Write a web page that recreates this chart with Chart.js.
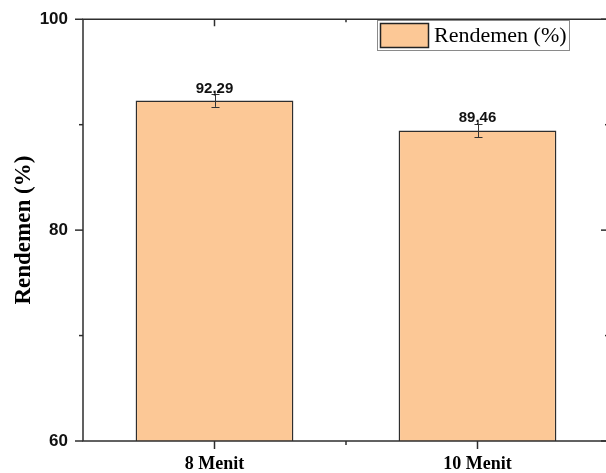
<!DOCTYPE html>
<html>
<head>
<meta charset="utf-8">
<script src="https://cdn.jsdelivr.net/npm/chart.js@4.4.1/dist/chart.umd.min.js"></script>
<style>
  html, body { margin: 0; padding: 0; background: #ffffff; overflow: hidden; }
  #wrap { width: 606px; height: 473px; overflow: hidden; }
  #c { display: block; }
</style>
</head>
<body>
<div id="wrap"><canvas id="c" width="609" height="473"></canvas></div>
<script>
// Yield per extraction time
const categories = ['8 Menit', '10 Menit'];
const rendemen = [92.29, 89.46];
const rendemenError = [0.6, 0.65];
const valueLabels = ['92,29', '89,46'];
const yMajorTicks = [60, 80, 100];
const yMinorTicks = [70, 90];
const seriesName = 'Rendemen (%)';

const BAR_FILL = '#fcc896';
const INK = '#2e2e2e';
const SERIF = '"Liberation Serif", "Times New Roman", serif';
const SANS = '"Liberation Sans", Arial, sans-serif';

// Frame, tick marks, error bars, value labels and legend box
const decorations = {
  id: 'decorations',
  afterDatasetsDraw(chart) {
    const { ctx, chartArea: a, scales: { x, y } } = chart;
    const meta = chart.getDatasetMeta(0);
    ctx.save();

    // error bars
    ctx.strokeStyle = '#333';
    ctx.lineWidth = 1;
    meta.data.forEach((bar, i) => {
      const cx = Math.round(bar.x) + 0.5;
      const yHi = y.getPixelForValue(rendemen[i] + rendemenError[i]);
      const yLo = y.getPixelForValue(rendemen[i] - rendemenError[i]);
      ctx.beginPath();
      ctx.moveTo(cx, yHi); ctx.lineTo(cx, yLo);
      ctx.moveTo(cx - 4, Math.round(yHi) + 0.5); ctx.lineTo(cx + 4, Math.round(yHi) + 0.5);
      ctx.moveTo(cx - 4, Math.round(yLo) + 0.5); ctx.lineTo(cx + 4, Math.round(yLo) + 0.5);
      ctx.stroke();
    });

    // value labels
    ctx.fillStyle = '#111';
    ctx.font = 'bold 15px ' + SANS;
    ctx.textAlign = 'center';
    ctx.textBaseline = 'alphabetic';
    meta.data.forEach((bar, i) => {
      ctx.fillText(valueLabels[i], bar.x, bar.y - 8);
    });

    // frame
    ctx.strokeStyle = INK;
    ctx.lineWidth = 1.5;
    ctx.strokeRect(a.left, a.top, a.right - a.left, a.bottom - a.top);

    // y tick marks: outward on the left, inward on the right
    const tick = (x1, y1, x2, y2) => { ctx.beginPath(); ctx.moveTo(x1, y1); ctx.lineTo(x2, y2); ctx.stroke(); };
    yMajorTicks.forEach(v => {
      const py = y.getPixelForValue(v);
      tick(a.left - 8, py, a.left, py);
      tick(a.right, py, a.right - 8, py);
    });
    yMinorTicks.forEach(v => {
      const py = y.getPixelForValue(v);
      tick(a.left - 4, py, a.left, py);
      tick(a.right, py, a.right - 4, py);
    });

    // x tick marks: outward at the bottom, inward at the top
    categories.forEach((c, i) => {
      const px = x.getPixelForValue(i);
      tick(px, a.bottom, px, a.bottom + 8);
      tick(px, a.top, px, a.top + 7);
    });
    for (let i = 0; i < categories.length - 1; i++) {
      const px = (x.getPixelForValue(i) + x.getPixelForValue(i + 1)) / 2;
      tick(px, a.bottom, px, a.bottom + 4);
      tick(px, a.top, px, a.top + 3);
    }

    // legend box
    ctx.fillStyle = '#ffffff';
    ctx.fillRect(377.5, 20.5, 192, 30);
    ctx.strokeStyle = '#8a8a8a';
    ctx.lineWidth = 1;
    ctx.strokeRect(377.5, 20.5, 192, 30);
    ctx.fillStyle = BAR_FILL;
    ctx.fillRect(380.5, 23.5, 48, 24);
    ctx.strokeStyle = '#222';
    ctx.lineWidth = 1.5;
    ctx.strokeRect(380.5, 23.5, 48, 24);
    ctx.fillStyle = '#000';
    ctx.font = '22px ' + SERIF;
    ctx.textAlign = 'left';
    ctx.textBaseline = 'middle';
    ctx.fillText(seriesName, 434, 36);

    ctx.restore();
  }
};

new Chart(document.getElementById('c'), {
  type: 'bar',
  data: {
    labels: categories,
    datasets: [{
      label: seriesName,
      data: rendemen,
      backgroundColor: BAR_FILL,
      borderColor: INK,
      borderWidth: 1.5,
      barPercentage: 0.6,
      categoryPercentage: 1.0
    }]
  },
  options: {
    responsive: false,
    devicePixelRatio: 1,
    animation: false,
    layout: { padding: { top: 16, right: 0, left: 0, bottom: 0 } },
    plugins: {
      legend: { display: false },
      tooltip: { enabled: false }
    },
    scales: {
      x: {
        type: 'category',
        offset: true,
        grid: { display: false, drawTicks: false },
        border: { display: false },
        ticks: {
          color: '#000',
          font: { family: SERIF, size: 18, weight: 'bold' },
          padding: 13
        },
        afterFit(scale) { scale.height = 32; }
      },
      y: {
        min: 60,
        max: 100,
        grid: { display: false, drawTicks: false },
        border: { display: false },
        ticks: {
          stepSize: 20,
          color: '#111',
          font: { family: SANS, size: 17, weight: 'bold', lineHeight: 0.5 },
          padding: 15
        },
        title: {
          display: true,
          text: seriesName,
          color: '#000',
          font: { family: SERIF, size: 23, weight: 'bold' },
          padding: { top: 10, bottom: 0 }
        },
        afterFit(scale) { scale.width = 83; }
      }
    }
  },
  plugins: [decorations]
});
</script>
</body>
</html>
